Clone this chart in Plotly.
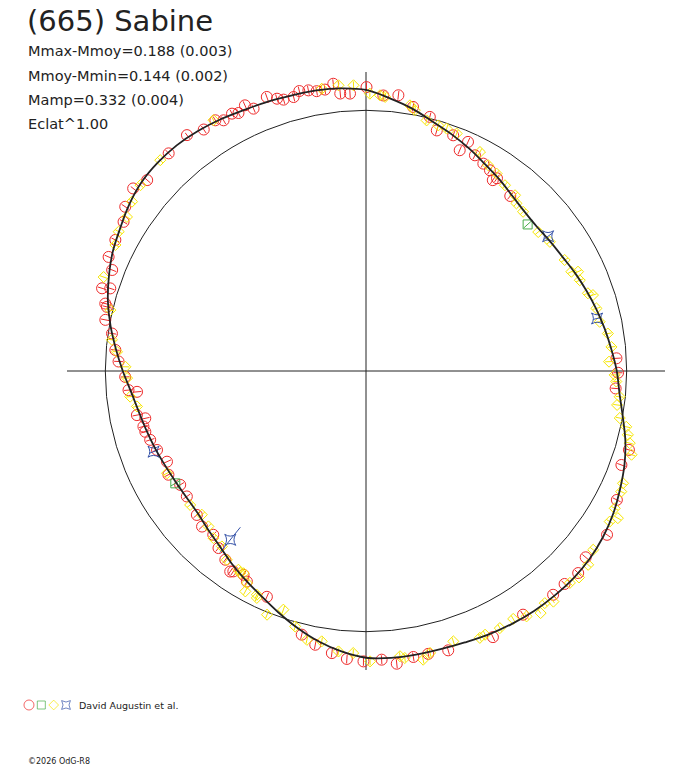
import plotly.graph_objects as go

W, H = 688, 768

# fitted light curve, polar angle (deg) and relative radius (circle = mean)
curve_theta = [0, 5, 10, 15, 20, 25, 30, 35, 40, 45, 50, 55, 60, 65, 70, 75, 80, 85,
               90, 95, 100, 105, 110, 115, 120, 125, 130, 135, 140, 145, 150, 155,
               160, 165, 170, 175, 180, 185, 190, 195, 200, 205, 210, 215, 220, 225,
               230, 235, 240, 245, 250, 255, 260, 265, 270, 275, 280, 285, 290, 295,
               300, 305, 310, 315, 320, 325, 330, 335, 340, 345, 350, 355, 360]
curve_r = [0.962, 0.945, 0.930, 0.915, 0.900, 0.886, 0.872, 0.864, 0.858, 0.862, 0.875,
           0.895, 0.915, 0.940, 0.965, 0.990, 1.022, 1.050, 1.078, 1.088, 1.093, 1.095,
           1.100, 1.105, 1.115, 1.124, 1.130, 1.130, 1.125, 1.110, 1.090, 1.073, 1.050,
           1.025, 0.995, 0.963, 0.933, 0.905, 0.886, 0.873, 0.862, 0.852, 0.845, 0.842,
           0.845, 0.858, 0.875, 0.900, 0.925, 0.952, 0.985, 1.020, 1.053, 1.080, 1.100,
           1.105, 1.105, 1.105, 1.108, 1.115, 1.120, 1.124, 1.125, 1.125, 1.120, 1.110,
           1.095, 1.075, 1.055, 1.030, 1.000, 0.976, 0.962]

# observations (red circles)
red_theta = [132.2, 127.2, 123.9, 121.0, 119.6, 117.5, 116.3, 114.5, 113.2, 109.9, 108.1,
             106.9, 104.8, 103.4, 101.6, 100.0, 98.3, 96.5, 95.3, 93.3, 89.9, 86.4, 83.3,
             79.9, 75.9, 73.6, 69.7, 67.0, 66.0, 63.2, 60.5, 58.3, 56.4, 55.8, 50.5,
             141.9, 138.9, 145.7, 148.4, 152.4, 156.1, 158.3, 162.6, 162.1, 165.5, 166.1,
             168.9, 171.6, 175.2, 177.8, 181.4, 184.6, 185.2, 190.9, 192.1, 194.0, 195.4,
             197.7, 200.7, 204.5, 207.7, 211.5, 215.0, 220.4, 223.5, 227.0, 230.2, 233.3,
             236.5, 239.0, 240.5, 246.3, 235.9, 256.3, 259.5, 263.1, 266.2, 269.5, 273.1,
             276.0, 279.4, 282.4, 286.4, 295.5, 302.8, 309.9, 313.0, 316.4, 2.9, 359.6,
             356.0, 343.3, 339.8, 332.8, 325.8, 319.7]
red_r = [1.127, 1.136, 1.116, 1.122, 1.106, 1.113, 1.104, 1.120, 1.095, 1.118, 1.099,
         1.088, 1.087, 1.104, 1.099, 1.090, 1.091, 1.109, 1.069, 1.066, 1.089, 1.059, 1.065,
         1.029, 1.005, 0.962, 0.964, 0.920, 0.962, 0.927, 0.914, 0.905, 0.879, 0.894, 0.870,
         1.135, 1.114, 1.118, 1.092, 1.085, 1.080, 1.048, 1.061, 1.031, 1.033, 1.024,
         1.019, 0.985, 0.965, 0.950, 0.924, 0.914, 0.882, 0.895, 0.866, 0.880, 0.878,
         0.869, 0.857, 0.839, 0.856, 0.836, 0.839, 0.852, 0.867, 0.859, 0.884, 0.903,
         0.922, 0.912, 0.928, 0.946, 0.929, 1.041, 1.068, 1.090, 1.107, 1.114, 1.109,
         1.129, 1.112, 1.111, 1.117, 1.131, 1.112, 1.119, 1.117, 1.124, 0.962, 0.967,
         0.960, 1.053, 1.044, 1.082, 1.118, 1.105]

# yellow diamonds
yel_theta = [134.3, 121.3, 98.9, 95.5, 92.5, 89.2, 87.1, 86.0, 80.6, 79.4, 76.4, 73.6,
             71.6, 69.1, 62.5, 59.3, 56.5, 53.2, 49.7, 48.1, 45.4, 38.9, 35.1, 29.2, 25.8,
             25.1, 23.0, 19.3, 18.5, 15.2, 11.9, 8.8, 5.6, 2.2, 359.1, 357.6, 354.2, 352.3,
             349.5, 347.9, 346.3, 344.7, 342.5, 336.4, 334.7, 331.1, 329.7, 328.3, 321.8,
             238.1, 241.3, 244.3, 247.9, 250.9, 254.5, 257.6, 260.7, 264.4, 267.4, 270.8,
             276.8, 277.7, 281.2, 282.8, 287.9, 293.1, 294.3, 297.5, 300.7, 303.2, 305.8,
             307.6, 309.1, 313.9, 315.9, 318.9, 207.2, 217.3, 221.2, 224.6, 227.6, 230.6,
             233.6, 237.3, 238.8, 240.7, 244.0, 140.5, 144.1, 147.2, 150.6, 153.3, 160.3,
             166.6, 173.0, 175.6, 179.0, 181.7, 186.2, 188.8]
yel_r = [1.130, 1.126, 1.096, 1.101, 1.097, 1.064, 1.059, 1.054, 1.033, 1.018, 0.989, 0.982,
         0.980, 0.975, 0.947, 0.918, 0.908, 0.890, 0.884, 0.864, 0.858, 0.849, 0.862, 0.873,
         0.875, 0.898, 0.891, 0.902, 0.918, 0.916, 0.916, 0.939, 0.946, 0.933, 0.954, 0.961,
         0.978, 0.972, 0.990, 1.021, 1.034, 1.049, 1.068, 1.076, 1.083, 1.090, 1.119, 1.099,
         1.109, 0.913, 0.964, 0.966, 1.009, 0.969, 1.017, 1.056, 1.051, 1.081, 1.083, 1.114,
         1.102, 1.111, 1.129, 1.109, 1.090, 1.113, 1.110, 1.112, 1.106, 1.125, 1.145, 1.124,
         1.140, 1.128, 1.138, 1.131, 0.858, 0.848, 0.837, 0.849, 0.868, 0.871, 0.900, 0.906,
         0.907, 0.933, 0.955, 1.121, 1.108, 1.091, 1.089, 1.076, 1.069, 1.008, 0.982, 0.958,
         0.923, 0.917, 0.910, 0.889]

# green squares
grn_theta = [42.2, 210.5]
grn_r = [0.837, 0.849]

# blue stars
blu_theta = [36.5, 12.8, 200.8, 231.2]
blu_r = [0.869, 0.909, 0.872, 0.831]
blu_err = [0.022, 0.015, 0.018, 0.062]

red_err = 0.017
yel_err = 0.015
grn_err = 0.02

RED = "#ee2a2a"
YEL = "#f6e600"
GRN = "#4aae4a"
BLU = "#3552a8"
INK = "#222222"


def fx(px):
    return px / W


def fy(py):
    return 1 - py / H


def err_segments(theta, r, err):
    if not isinstance(err, list):
        err = [err] * len(r)
    tt, rr = [], []
    for t, v, e in zip(theta, r, err):
        tt += [t, t, None]
        rr += [v - e, v + e, None]
    return tt, rr


fig = go.Figure()

series = [
    (red_theta, red_r, red_err, RED, "circle-open", 11),
    (yel_theta, yel_r, yel_err, YEL, "diamond-open", 8.5),
    (grn_theta, grn_r, grn_err, GRN, "square-open", 9),
    (blu_theta, blu_r, blu_err, BLU, "star-square-open", 10),
]

for th, rv, er, col, sym, sz in series:
    et, erv = err_segments(th, rv, er)
    fig.add_trace(go.Scatterpolar(theta=et, r=erv, mode="lines",
                                  line=dict(color=col, width=1), hoverinfo="skip",
                                  cliponaxis=False))
    fig.add_trace(go.Scatterpolar(theta=th, r=rv, mode="markers", cliponaxis=False,
                                  marker=dict(symbol=sym, size=sz, color=col,
                                              line=dict(color=col, width=1))))

fig.add_trace(go.Scatterpolar(theta=curve_theta, r=curve_r, mode="lines",
                              line=dict(color=INK, width=1.8, shape="spline")))

# legend keys
legend_cols = [RED, GRN, YEL, BLU]
legend_syms = ["circle-open", "square-open", "diamond-open", "star-square-open"]
legend_sizes = [10, 8, 7.5, 8]
fig.add_trace(go.Scatter(x=[0, 1, 2, 3], y=[0, 0, 0, 0], mode="markers",
                         xaxis="x", yaxis="y",
                         marker=dict(symbol=legend_syms, size=legend_sizes,
                                     color=legend_cols,
                                     line=dict(color=legend_cols, width=1))))

lines = ["Mmax-Mmoy=0.188 (0.003)", "Mmoy-Mmin=0.144 (0.002)",
         "Mamp=0.332 (0.004)", "Eclat^1.00"]
line_y = [51, 76, 100, 124]

ann = [dict(text="(665) Sabine", x=fx(25), y=fy(21), font=dict(size=29))]
for t, yy in zip(lines, line_y):
    ann.append(dict(text=t, x=fx(26), y=fy(yy), font=dict(size=14.5)))
ann.append(dict(text="David Augustin et al.", x=fx(77), y=fy(705), font=dict(size=9.5)))
ann.append(dict(text="©2026 OdG-R8", x=fx(26), y=fy(761), font=dict(size=8)))
for a in ann:
    a.update(xref="paper", yref="paper", xanchor="left", yanchor="middle",
             showarrow=False)
    a["font"].update(family="DejaVu Sans", color=INK)

fig.update_layout(
    width=W, height=H, autosize=False,
    margin=dict(l=0, r=0, t=0, b=0),
    paper_bgcolor="white", plot_bgcolor="white",
    showlegend=False,
    annotations=ann,
    polar=dict(
        domain=dict(x=[fx(67), fx(665)], y=[fy(670), fy(72)]),
        bgcolor="white",
        radialaxis=dict(range=[0, 1.147], tickvals=[1], showticklabels=False,
                        ticks="", showline=False, gridcolor=INK, gridwidth=1),
        angularaxis=dict(tickvals=[0, 90, 180, 270], showticklabels=False,
                         ticks="", showline=False, gridcolor=INK, gridwidth=1),
    ),
    xaxis=dict(domain=[fx(22.8), fx(72.2)], range=[-0.5, 3.5], visible=False),
    yaxis=dict(domain=[fy(715), fy(695)], range=[-1, 1], visible=False),
)

# drop the default 8px page margin so the figure fills the window exactly
fig.write_html("out.html", config={"displayModeBar": False},
               post_script="document.body.style.margin = '0';")
